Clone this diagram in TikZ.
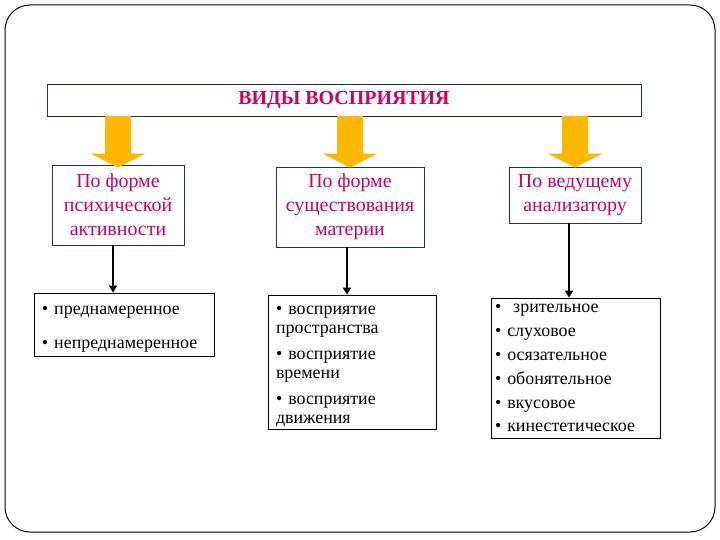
\documentclass[tikz,border=0pt]{standalone}
\usepackage{fontspec}
\setmainfont{Liberation Serif}
\usetikzlibrary{positioning, arrows.meta}
\definecolor{crimson}{RGB}{204,0,102}
\definecolor{amber}{RGB}{255,184,0}
\definecolor{framecol}{RGB}{31,56,80}
\begin{document}
\begin{tikzpicture}[x=1bp, y=-1bp,
	kind/.style={draw=framecol, line width=0.8bp, fill=white, text=crimson, align=center, inner sep=2bp, font=\fontsize{20}{24}\selectfont},
	items/.style={draw=black, line width=0.8bp, fill=white, align=left, inner ysep=2bp, font=\fontsize{18}{19}\selectfont},
	bigarrow/.style={amber, line width=26bp, -{Triangle[width=54bp,length=14bp]}},
	thinarrow/.style={black, line width=2.5bp, -{Triangle[width=8bp,length=7bp]}}]
	\useasboundingbox (0,0) rectangle (720,540);
	% Cadre
	\draw[line width=1bp, rounded corners=25bp] (5,5) rectangle (715,532);
	% Titre
	\node[draw=framecol, line width=0.8bp, minimum width=594bp, minimum height=32bp, text=crimson, font=\bfseries\fontsize{20}{22}\selectfont] (types) at (344,100) {ВИДЫ ВОСПРИЯТИЯ};
	% Trois critères
	\node[kind, minimum width=132bp, minimum height=80bp] (psy) at (118,205) {По форме\\психической\\активности};
	\node[kind, minimum width=148bp, minimum height=80bp] (matter) at (350,207) {По форме\\существования\\материи};
	\node[kind, minimum width=132bp, minimum height=56bp] (analyser) at (575,195) {По ведущему\\анализатору};
	% Listes
	\node[items, inner xsep=8bp, text width=164bp, minimum height=63bp] (will) at (124,324.5)
		{\rule{0pt}{18bp}• преднамеренное\\[15bp]• непреднамеренное};
	\node[items, inner xsep=8bp, text width=152bp, minimum height=134bp] (space) at (352,362)
		{\rule{0pt}{17.5bp}• восприятие\\пространства\\[7bp]• восприятие\\времени\\[7bp]• восприятие\\движения};
	\node[items, inner xsep=4bp, text width=161bp, minimum height=140bp] (senses) at (575.5,368)
		{•\ \ зрительное\\[5bp]• слуховое\\[5bp]• осязательное\\[5bp]• обонятельное\\[5bp]• вкусовое\\[5bp]• кинестетическое};
	% Flèches
	\draw[bigarrow] (psy.north |- types.south) -- ([yshift=-3bp]psy.north);
	\draw[bigarrow] (matter.north |- types.south) -- ([yshift=-1bp]matter.north);
	\draw[bigarrow] (analyser.north |- types.south) -- ([yshift=-1bp]analyser.north);
	\draw[thinarrow] ([xshift=-5bp]psy.south) -- ([xshift=-5bp]psy.south |- will.north);
	\draw[thinarrow] ([xshift=-3bp]matter.south) -- ([xshift=-3bp]matter.south |- space.north);
	\draw[thinarrow] ([xshift=-6bp]analyser.south) -- ([xshift=-6bp]analyser.south |- senses.north);
\end{tikzpicture}
\end{document}
